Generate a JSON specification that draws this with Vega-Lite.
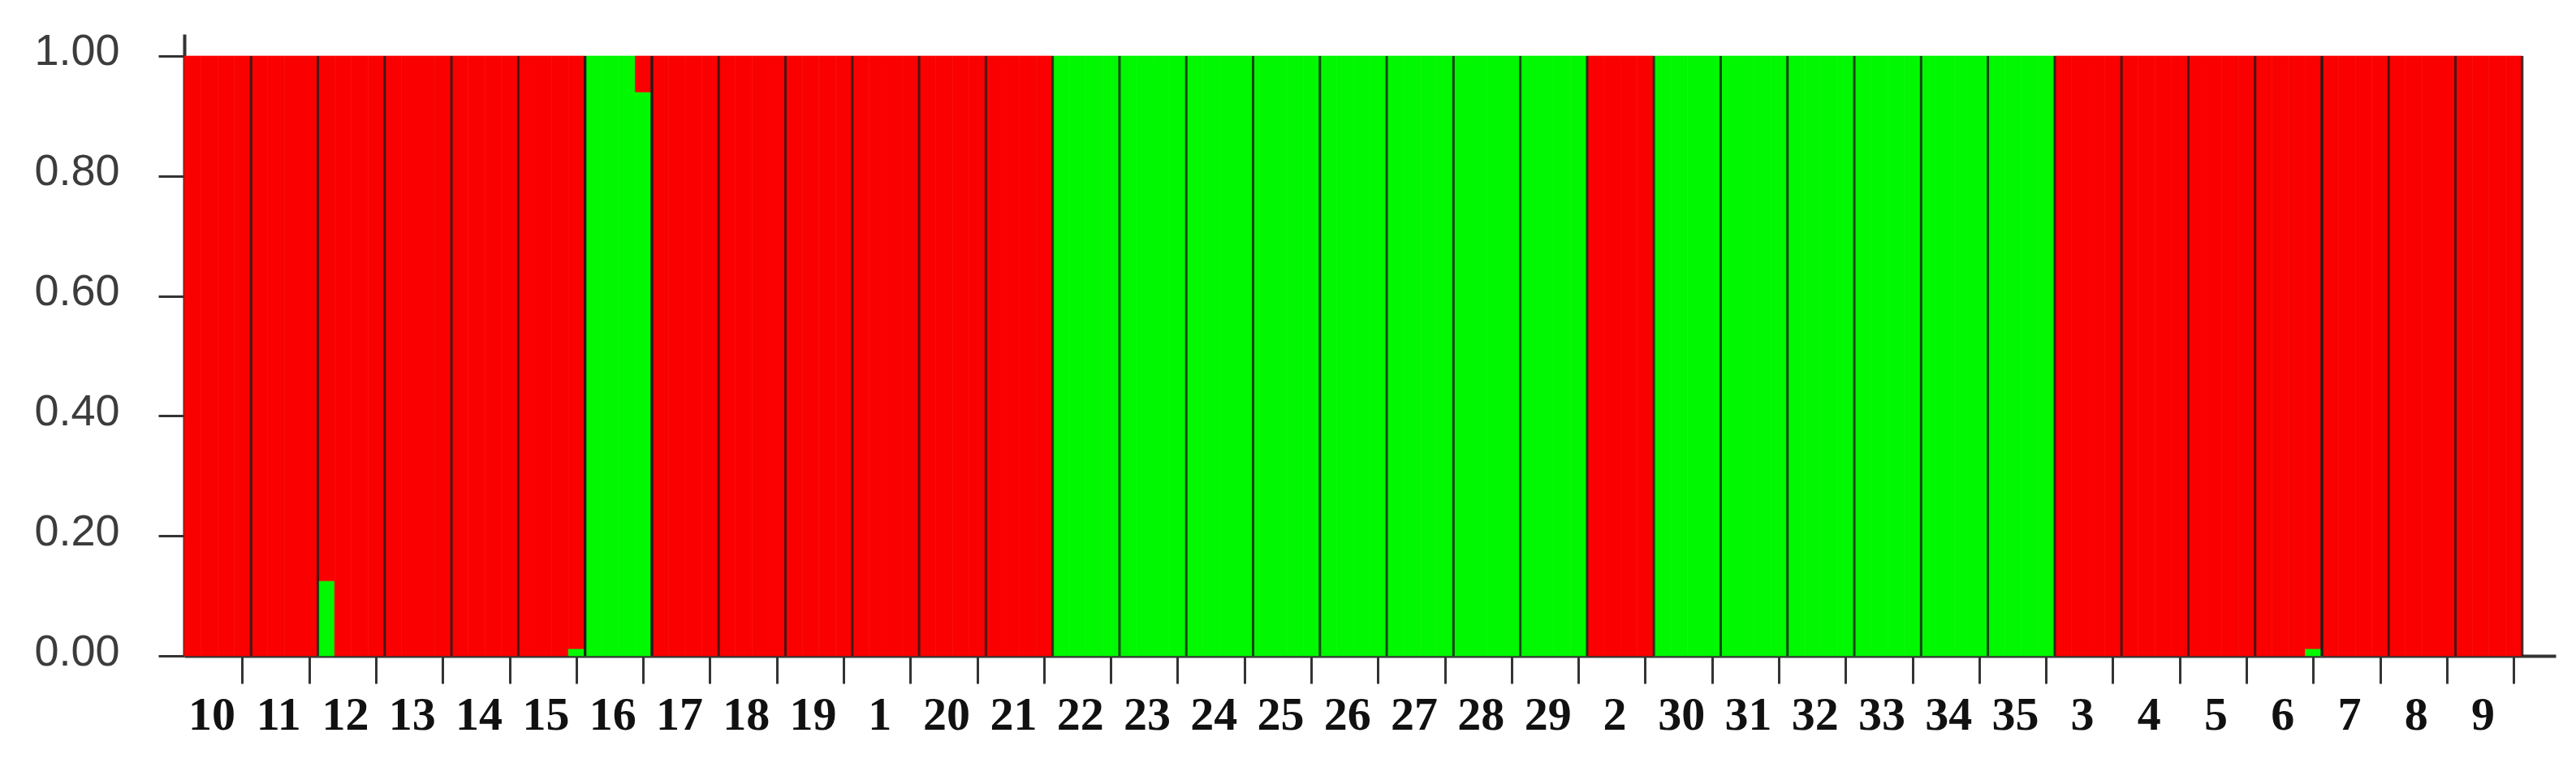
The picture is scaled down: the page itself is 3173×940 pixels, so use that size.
{
  "$schema": "https://vega.github.io/schema/vega-lite/v6.json",
  "autosize": {"type": "none"},
  "padding": {"left": 227, "top": 42, "right": 25, "bottom": 132},
  "width": 2921,
  "height": 766,
  "background": "white",
  "config": {"view": {"stroke": null}},
  "data": {"values": [
    {"i":1,"pop":"10","k":"red","q":1},{"i":2,"pop":"10","k":"red","q":1},{"i":3,"pop":"10","k":"red","q":1},{"i":4,"pop":"10","k":"red","q":1},
    {"i":5,"pop":"11","k":"red","q":1},{"i":6,"pop":"11","k":"red","q":1},{"i":7,"pop":"11","k":"red","q":1},{"i":8,"pop":"11","k":"red","q":1},
    {"i":9,"pop":"12","k":"green","q":0.125},{"i":9,"pop":"12","k":"red","q":0.875},{"i":10,"pop":"12","k":"red","q":1},{"i":11,"pop":"12","k":"red","q":1},{"i":12,"pop":"12","k":"red","q":1},
    {"i":13,"pop":"13","k":"red","q":1},{"i":14,"pop":"13","k":"red","q":1},{"i":15,"pop":"13","k":"red","q":1},{"i":16,"pop":"13","k":"red","q":1},
    {"i":17,"pop":"14","k":"red","q":1},{"i":18,"pop":"14","k":"red","q":1},{"i":19,"pop":"14","k":"red","q":1},{"i":20,"pop":"14","k":"red","q":1},
    {"i":21,"pop":"15","k":"red","q":1},{"i":22,"pop":"15","k":"red","q":1},{"i":23,"pop":"15","k":"red","q":1},{"i":24,"pop":"15","k":"green","q":0.012},{"i":24,"pop":"15","k":"red","q":0.988},
    {"i":25,"pop":"16","k":"green","q":1},{"i":26,"pop":"16","k":"green","q":1},{"i":27,"pop":"16","k":"green","q":1},{"i":28,"pop":"16","k":"green","q":0.94},{"i":28,"pop":"16","k":"red","q":0.06},
    {"i":29,"pop":"17","k":"red","q":1},{"i":30,"pop":"17","k":"red","q":1},{"i":31,"pop":"17","k":"red","q":1},{"i":32,"pop":"17","k":"red","q":1},
    {"i":33,"pop":"18","k":"red","q":1},{"i":34,"pop":"18","k":"red","q":1},{"i":35,"pop":"18","k":"red","q":1},{"i":36,"pop":"18","k":"red","q":1},
    {"i":37,"pop":"19","k":"red","q":1},{"i":38,"pop":"19","k":"red","q":1},{"i":39,"pop":"19","k":"red","q":1},{"i":40,"pop":"19","k":"red","q":1},
    {"i":41,"pop":"1","k":"red","q":1},{"i":42,"pop":"1","k":"red","q":1},{"i":43,"pop":"1","k":"red","q":1},{"i":44,"pop":"1","k":"red","q":1},
    {"i":45,"pop":"20","k":"red","q":1},{"i":46,"pop":"20","k":"red","q":1},{"i":47,"pop":"20","k":"red","q":1},{"i":48,"pop":"20","k":"red","q":1},
    {"i":49,"pop":"21","k":"red","q":1},{"i":50,"pop":"21","k":"red","q":1},{"i":51,"pop":"21","k":"red","q":1},{"i":52,"pop":"21","k":"red","q":1},
    {"i":53,"pop":"22","k":"green","q":1},{"i":54,"pop":"22","k":"green","q":1},{"i":55,"pop":"22","k":"green","q":1},{"i":56,"pop":"22","k":"green","q":1},
    {"i":57,"pop":"23","k":"green","q":1},{"i":58,"pop":"23","k":"green","q":1},{"i":59,"pop":"23","k":"green","q":1},{"i":60,"pop":"23","k":"green","q":1},
    {"i":61,"pop":"24","k":"green","q":1},{"i":62,"pop":"24","k":"green","q":1},{"i":63,"pop":"24","k":"green","q":1},{"i":64,"pop":"24","k":"green","q":1},
    {"i":65,"pop":"25","k":"green","q":1},{"i":66,"pop":"25","k":"green","q":1},{"i":67,"pop":"25","k":"green","q":1},{"i":68,"pop":"25","k":"green","q":1},
    {"i":69,"pop":"26","k":"green","q":1},{"i":70,"pop":"26","k":"green","q":1},{"i":71,"pop":"26","k":"green","q":1},{"i":72,"pop":"26","k":"green","q":1},
    {"i":73,"pop":"27","k":"green","q":1},{"i":74,"pop":"27","k":"green","q":1},{"i":75,"pop":"27","k":"green","q":1},{"i":76,"pop":"27","k":"green","q":1},
    {"i":77,"pop":"28","k":"green","q":1},{"i":78,"pop":"28","k":"green","q":1},{"i":79,"pop":"28","k":"green","q":1},{"i":80,"pop":"28","k":"green","q":1},
    {"i":81,"pop":"29","k":"green","q":1},{"i":82,"pop":"29","k":"green","q":1},{"i":83,"pop":"29","k":"green","q":1},{"i":84,"pop":"29","k":"green","q":1},
    {"i":85,"pop":"2","k":"red","q":1},{"i":86,"pop":"2","k":"red","q":1},{"i":87,"pop":"2","k":"red","q":1},{"i":88,"pop":"2","k":"red","q":1},
    {"i":89,"pop":"30","k":"green","q":1},{"i":90,"pop":"30","k":"green","q":1},{"i":91,"pop":"30","k":"green","q":1},{"i":92,"pop":"30","k":"green","q":1},
    {"i":93,"pop":"31","k":"green","q":1},{"i":94,"pop":"31","k":"green","q":1},{"i":95,"pop":"31","k":"green","q":1},{"i":96,"pop":"31","k":"green","q":1},
    {"i":97,"pop":"32","k":"green","q":1},{"i":98,"pop":"32","k":"green","q":1},{"i":99,"pop":"32","k":"green","q":1},{"i":100,"pop":"32","k":"green","q":1},
    {"i":101,"pop":"33","k":"green","q":1},{"i":102,"pop":"33","k":"green","q":1},{"i":103,"pop":"33","k":"green","q":1},{"i":104,"pop":"33","k":"green","q":1},
    {"i":105,"pop":"34","k":"green","q":1},{"i":106,"pop":"34","k":"green","q":1},{"i":107,"pop":"34","k":"green","q":1},{"i":108,"pop":"34","k":"green","q":1},
    {"i":109,"pop":"35","k":"green","q":1},{"i":110,"pop":"35","k":"green","q":1},{"i":111,"pop":"35","k":"green","q":1},{"i":112,"pop":"35","k":"green","q":1},
    {"i":113,"pop":"3","k":"red","q":1},{"i":114,"pop":"3","k":"red","q":1},{"i":115,"pop":"3","k":"red","q":1},{"i":116,"pop":"3","k":"red","q":1},
    {"i":117,"pop":"4","k":"red","q":1},{"i":118,"pop":"4","k":"red","q":1},{"i":119,"pop":"4","k":"red","q":1},{"i":120,"pop":"4","k":"red","q":1},
    {"i":121,"pop":"5","k":"red","q":1},{"i":122,"pop":"5","k":"red","q":1},{"i":123,"pop":"5","k":"red","q":1},{"i":124,"pop":"5","k":"red","q":1},
    {"i":125,"pop":"6","k":"red","q":1},{"i":126,"pop":"6","k":"red","q":1},{"i":127,"pop":"6","k":"red","q":1},{"i":128,"pop":"6","k":"green","q":0.012},{"i":128,"pop":"6","k":"red","q":0.988},
    {"i":129,"pop":"7","k":"red","q":1},{"i":130,"pop":"7","k":"red","q":1},{"i":131,"pop":"7","k":"red","q":1},{"i":132,"pop":"7","k":"red","q":1},
    {"i":133,"pop":"8","k":"red","q":1},{"i":134,"pop":"8","k":"red","q":1},{"i":135,"pop":"8","k":"red","q":1},{"i":136,"pop":"8","k":"red","q":1},
    {"i":137,"pop":"9","k":"red","q":1},{"i":138,"pop":"9","k":"red","q":1},{"i":139,"pop":"9","k":"red","q":1},{"i":140,"pop":"9","k":"red","q":1}
  ]},
  "layer": [
    {
      "mark": {"type": "bar", "strokeWidth": 0.6},
      "encoding": {
        "x": {
          "field": "i", "type": "ordinal",
          "scale": {"paddingInner": 0, "paddingOuter": 2.5, "align": 0},
          "axis": {
            "title": null,
            "values": [4,8,12,16,20,24,28,32,36,40,44,48,52,56,60,64,68,72,76,80,84,88,92,96,100,104,108,112,116,120,124,128,132,136,140],
            "labelExpr": "['10','11','12','13','14','15','16','17','18','19','1','20','21','22','23','24','25','26','27','28','29','2','30','31','32','33','34','35','3','4','5','6','7','8','9'][datum.value/4 - 1]",
            "labelAngle": 0,
            "labelOffset": -38,
            "labelFont": "Liberation Serif",
            "labelFontWeight": "bold",
            "labelFontSize": 58,
            "labelColor": "#111111",
            "labelPadding": 10,
            "labelOverlap": false,
            "tickSize": 34,
            "tickWidth": 3,
            "tickColor": "#333333",
            "domainColor": "#333333",
            "domainWidth": 4,
            "grid": false
          }
        },
        "y": {
          "field": "q", "type": "quantitative", "stack": "zero",
          "scale": {"domain": [0, 1.0365], "nice": false, "zero": true},
          "axis": {
            "title": null,
            "values": [0, 0.2, 0.4, 0.6, 0.8, 1],
            "format": ".2f",
            "labelFont": "Liberation Sans",
            "labelFontSize": 54,
            "labelColor": "#3c3c3c",
            "labelPadding": 48,
            "labelOffset": -5,
            "tickSize": 32,
            "tickWidth": 3,
            "tickColor": "#333333",
            "domainColor": "#333333",
            "domainWidth": 4,
            "grid": false
          }
        },
        "color": {
          "field": "k", "type": "nominal",
          "scale": {"domain": ["green", "red"], "range": ["#00f800", "#fa0000"]},
          "legend": null
        },
        "stroke": {
          "field": "k", "type": "nominal",
          "scale": {"domain": ["green", "red"], "range": ["#00f800", "#fa0000"]},
          "legend": null
        },
        "order": {"field": "k", "sort": "ascending"}
      }
    },
    {
      "transform": [{"filter": "datum.i % 4 == 0"}],
      "mark": {"type": "rule", "color": "#1a1a1a", "strokeWidth": 3, "opacity": 0.8},
      "encoding": {
        "x": {"field": "i", "type": "ordinal", "bandPosition": 1},
        "y": {"datum": 0, "type": "quantitative"},
        "y2": {"datum": 1}
      }
    }
  ]
}
